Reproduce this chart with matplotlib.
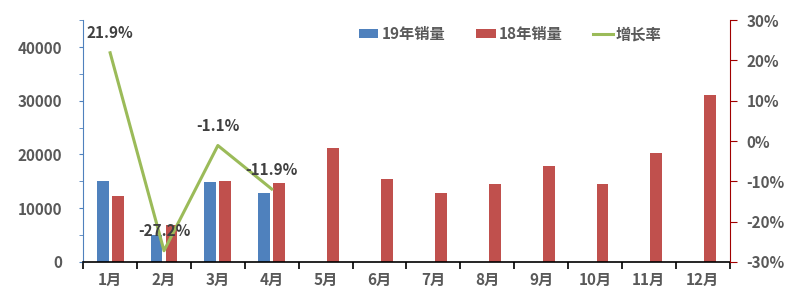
import matplotlib
matplotlib.use("Agg")
import matplotlib.pyplot as plt
import numpy as np
from matplotlib.ticker import MultipleLocator, FixedLocator, NullFormatter, FuncFormatter

plt.rcParams['font.family'] = ['Noto Sans CJK SC', 'DejaVu Sans']

months = ["1月", "2月", "3月", "4月", "5月", "6月", "7月", "8月", "9月", "10月", "11月", "12月"]
sales_19 = [15000, 5020, 14950, 12900]
sales_18 = [12300, 6900, 15120, 14640, 21270, 15500, 12780, 14510, 17800, 14510, 20340, 31070]
growth = [21.9, -27.2, -1.1, -11.9]
growth_labels = ["21.9%", "-27.2%", "-1.1%", "-11.9%"]

BLUE = "#4F81BD"
RED = "#C0504D"
GREEN = "#9BBB59"
TXT = "#595959"
FS = 11

fig = plt.figure(figsize=(8, 3.05), dpi=100)
ax = fig.add_axes([0.104, 0.141, 0.808, 0.793])
ax2 = ax.twinx()

x = np.arange(len(months))
w = 0.22
b1 = ax.bar(x[:len(sales_19)] - 0.14, sales_19, w, color=BLUE, label="19年销量", zorder=2)
b2 = ax.bar(x + 0.14, sales_18, w, color=RED, label="18年销量", zorder=2)
ln, = ax2.plot(x[:len(growth)], growth, color=GREEN, lw=2.2, label="增长率")

ax.set_xlim(-0.5, 11.5)
ax.set_ylim(0, 45000)
ax2.set_ylim(-30, 30)

# axes styling
ax.spines["top"].set_visible(False)
ax2.spines["top"].set_visible(False)
ax.spines["right"].set_visible(False)
ax2.spines["left"].set_visible(False)
ax2.spines["bottom"].set_visible(False)
ax.spines["left"].set_color(BLUE)
ax2.spines["right"].set_color("#A00000")
ax.spines["bottom"].set_color("black")
ax.spines["bottom"].set_linewidth(1.2)

ax.xaxis.set_major_locator(FixedLocator(np.arange(-0.5, 12, 1)))
ax.xaxis.set_major_formatter(NullFormatter())
ax.xaxis.set_minor_locator(FixedLocator(x))
ax.set_xticklabels(months, minor=True)
ax.tick_params(axis="x", which="major", direction="out", length=5, width=1.2, color="black")
ax.tick_params(axis="x", which="minor", length=0, pad=7, labelsize=FS, labelcolor=TXT)
for t in ax.get_xticklabels(minor=True):
    t.set_fontweight("bold")

ax.yaxis.set_major_locator(FixedLocator([0, 10000, 20000, 30000, 40000]))
ax.yaxis.set_minor_locator(MultipleLocator(5000))
ax.tick_params(axis="y", which="both", direction="out", length=3, color=BLUE,
               labelsize=FS, labelcolor=TXT, pad=12)
for t in ax.get_yticklabels():
    t.set_fontweight("bold")

ax2.yaxis.set_major_locator(MultipleLocator(10))
ax2.yaxis.set_major_formatter(FuncFormatter(lambda v, p: f"{v:.0f}%"))
ax2.tick_params(axis="y", direction="out", length=5, color="#A00000",
                labelsize=FS, labelcolor=TXT, pad=7)
for t in ax2.get_yticklabels():
    t.set_fontweight("bold")

# data labels, centred above each point
for i, (v, lab) in enumerate(zip(growth, growth_labels)):
    ax2.text(i, v + 4.8, lab, ha="center", va="center",
             fontsize=FS, fontweight="bold", color="#404040")

ax.legend(handles=[b1, b2, ln], loc="upper left", bbox_to_anchor=(0.426, 0.975), ncol=3,
          frameon=False, borderpad=0, borderaxespad=0, handlelength=1.3,
          handleheight=0.55, handletextpad=0.2, columnspacing=2.0, labelcolor=TXT,
          prop={"weight": "bold", "size": FS})

fig.savefig("out.png", dpi=100, facecolor="white")
